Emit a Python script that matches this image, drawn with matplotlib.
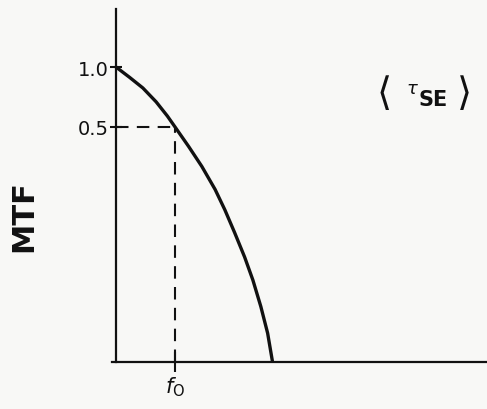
import matplotlib
matplotlib.use("Agg")
import matplotlib.pyplot as plt

# ---- data (schematic units: x in units of f0, y as drawn height) ----
curve_x = [0.0, 0.23, 0.455, 0.68, 0.87, 1.0, 1.23, 1.455, 1.68,
           1.845, 2.01, 2.18, 2.32, 2.455, 2.57, 2.65]
curve_y = [1.0, 0.965, 0.929, 0.882, 0.834, 0.797, 0.731, 0.663, 0.585,
           0.516, 0.439, 0.356, 0.278, 0.188, 0.098, 0.004]
ytick_pos = [1.0, 0.797]
ytick_labels = ["1.0", "0.5"]
xtick_pos = [1.0]
xtick_labels = [r"$f_{\rm O}$"]
f0_point = (1.0, 0.797)

ink = "#111111"
bg = "#f8f8f6"

fig = plt.figure(figsize=(4.87, 4.10), dpi=100, facecolor=bg)
ax = fig.add_axes([0, 0, 1, 1], facecolor=bg)
ax.set_xlim(-1.966, 6.288)
ax.set_ylim(-0.159, 1.2305)

# axes as spines through the origin
for s in ["top", "right"]:
    ax.spines[s].set_visible(False)
ax.spines["left"].set_position(("data", 0))
ax.spines["bottom"].set_position(("data", 0))
ax.spines["left"].set_bounds(0, 1.197)
ax.spines["bottom"].set_bounds(-0.07, 6.3)
for s in ["left", "bottom"]:
    ax.spines[s].set_linewidth(1.6)
    ax.spines[s].set_color(ink)

ax.set_yticks(ytick_pos, labels=ytick_labels)
ax.set_xticks(xtick_pos, labels=xtick_labels)
ax.tick_params(axis="y", direction="inout", length=9, width=1.5, color=ink,
               labelsize=14, pad=1, labelcolor=ink)
ax.tick_params(axis="x", direction="inout", length=14, width=1.5, color=ink,
               labelsize=15, pad=2, labelcolor=ink)

# MTF curve
ax.plot(curve_x, curve_y, color=ink, lw=2.4, solid_capstyle="round",
        solid_joinstyle="round")

# dashed guides at the 0.5 point
ax.plot([0, f0_point[0]], [f0_point[1], f0_point[1]], color=ink, lw=1.5,
        dashes=(6, 4))
ax.plot([f0_point[0], f0_point[0]], [0, f0_point[1]], color=ink, lw=1.5,
        dashes=(6, 4))

# labels
fig.text(24 / 487, 1 - 216 / 410, "MTF", rotation=90, fontsize=22,
         fontweight="bold", ha="center", va="center", color=ink)
fig.text(383 / 487, 1 - 94 / 410, r"$\langle$", fontsize=28,
         ha="center", va="center", color=ink)
fig.text(412 / 487, 1 - 89 / 410, r"$\tau$", fontsize=13,
         ha="center", va="center", color=ink)
fig.text(433 / 487, 1 - 100 / 410, "SE", fontsize=15, fontweight="semibold",
         ha="center", va="center", color=ink)
fig.text(463 / 487, 1 - 94 / 410, r"$\rangle$", fontsize=28,
         ha="center", va="center", color=ink)

fig.savefig("out.png", dpi=100, facecolor=bg)
